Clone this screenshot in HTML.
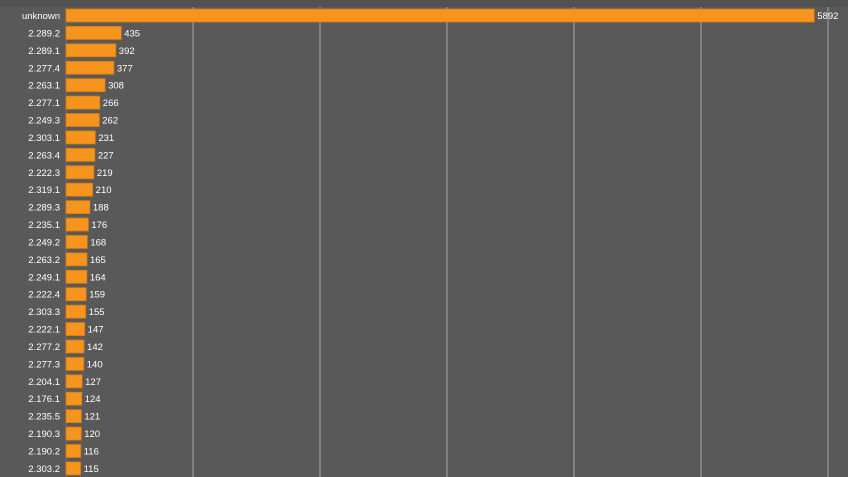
<!DOCTYPE html>
<html><head><meta charset="utf-8"><style>
body{margin:0;background:#595959;}
svg{display:block;font-family:"Liberation Sans",sans-serif;}
</style></head><body>
<svg id="c" width="848" height="477">
<rect x="0" y="0" width="848" height="477" fill="#595959"/>
<rect x="0" y="0" width="848" height="7" fill="#515151"/>
<g id="grid"></g><g id="bars"></g>
</svg>
<script>
const categories=["unknown","2.289.2","2.289.1","2.277.4","2.263.1","2.277.1","2.249.3","2.303.1","2.263.4","2.222.3","2.319.1","2.289.3","2.235.1","2.249.2","2.263.2","2.249.1","2.222.4","2.303.3","2.222.1","2.277.2","2.277.3","2.204.1","2.176.1","2.235.5","2.190.3","2.190.2","2.303.2"];
const values=[5892,435,392,377,308,266,262,231,227,219,210,188,176,168,165,164,159,155,147,142,140,127,124,121,120,116,115];
const gridTicks=[0,1000,2000,3000,4000,5000,6000];
const NS="http://www.w3.org/2000/svg";
const x0=66,scale=0.127,rowH=17.42,top0=9,barH=13;
const xs=v=>x0+v*scale;
const ys=i=>top0+i*rowH;
const grid=document.getElementById('grid'),bars=document.getElementById('bars');
gridTicks.forEach(t=>{const l=document.createElementNS(NS,'line');
l.setAttribute('x1',xs(t));l.setAttribute('x2',xs(t));l.setAttribute('y1',7);l.setAttribute('y2',477);
l.setAttribute('stroke',t===0?'#6a6a6a':'#a8a8a8');l.setAttribute('stroke-width',1);


grid.appendChild(l);});
categories.forEach((c,i)=>{const v=values[i];
const r=document.createElementNS(NS,'rect');
r.setAttribute('x',x0);r.setAttribute('y',ys(i));r.setAttribute('width',v*scale);r.setAttribute('height',barH);
r.setAttribute('fill','#f7941d');r.setAttribute('stroke','#d87c10');r.setAttribute('stroke-width',0.8);


bars.appendChild(r);
const lb=document.createElementNS(NS,'text');
lb.setAttribute('x',x0-6);lb.setAttribute('y',ys(i)+barH/2+3.5);lb.setAttribute('text-anchor','end');
lb.setAttribute('font-size','9.5');lb.setAttribute('fill','#ffffff');lb.textContent=c;


bars.appendChild(lb);
const vl=document.createElementNS(NS,'text');
vl.setAttribute('x',xs(v)+3);vl.setAttribute('y',ys(i)+barH/2+3.5);
vl.setAttribute('font-size','9.5');vl.setAttribute('fill','#ffffff');vl.textContent=v;


bars.appendChild(vl);});
</script>
</body></html>
